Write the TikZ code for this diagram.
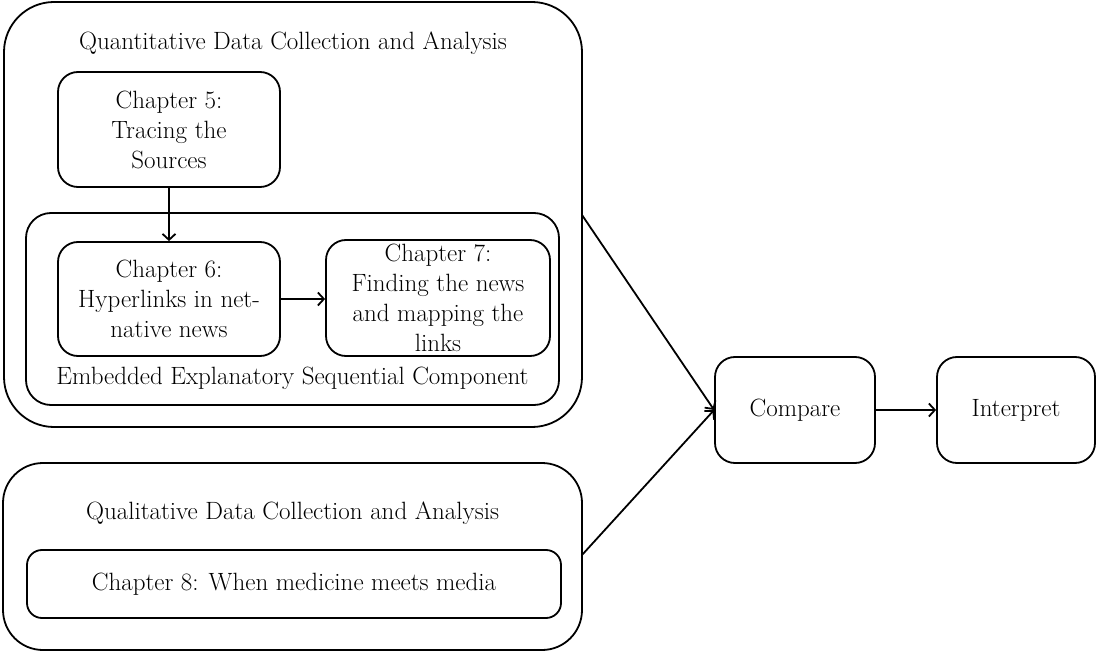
\documentclass[tikz,border=0pt]{standalone}
\usepackage{fontspec}
\usetikzlibrary{arrows.meta}
\begin{document}
\begin{tikzpicture}[x=1pt,y=-1pt,
  box/.style={draw, line width=1.8pt, rounded corners=20pt, align=center, inner sep=0pt, font=\fontsize{25}{30}\selectfont},
  txt/.style={align=center, inner sep=0pt, font=\fontsize{25}{30}\selectfont},
  arr/.style={line width=1.8pt, -{Straight Barb[length=6pt,width=13pt,line width=1.8pt]}}]
\useasboundingbox (0,0) rectangle (1098,652);

%parte quantitativa
\node[box, rounded corners=50pt, minimum width=578, minimum height=425] at (293,214.5) (quant) {};
\node[txt] at (293,43) (quanttitle) {Quantitative Data Collection and Analysis};

\node[box, minimum width=222, minimum height=115] at (169,129.5) (ch5) {Chapter 5:\\Tracing the\\Sources};

\node[box, rounded corners=25pt, minimum width=533, minimum height=192] at (292.5,309) (embedded) {};
\node[txt] at (292.5,378) (embeddedtitle) {Embedded Explanatory Sequential Component};

\node[box, minimum width=222, minimum height=114] at (169,299) (ch6) {Chapter 6:\\Hyperlinks in net-\\native news};
\node[box, minimum width=224, minimum height=116] at (438,298) (ch7) {Chapter 7:\\Finding the news\\and mapping the\\links};

%parte qualitativa
\node[box, rounded corners=40pt, minimum width=579, minimum height=187] at (292.5,556.5) (quali) {};
\node[txt] at (292.5,513) (qualititle) {Qualitative Data Collection and Analysis};
\node[box, rounded corners=15pt, minimum width=534, minimum height=68] at (294,584) (ch8) {Chapter 8: When medicine meets media};

%confronto
\node[box, minimum width=160, minimum height=106] at (795,410) (compare) {Compare};
\node[box, minimum width=158, minimum height=106] at (1016,410) (interpret) {Interpret};

%frecce
\coordinate (quantout) at (582,215);
\coordinate (qualiout) at (582,555);
\draw[arr] (ch5.south) -- (ch6.north);
\draw[arr] (ch6.east) -- (ch6.east -| ch7.west);
\draw[arr] (quantout) -- (compare.west);
\draw[arr] (qualiout) -- (compare.west);
\draw[arr] (compare) -- (interpret);

\end{tikzpicture}
\end{document}
